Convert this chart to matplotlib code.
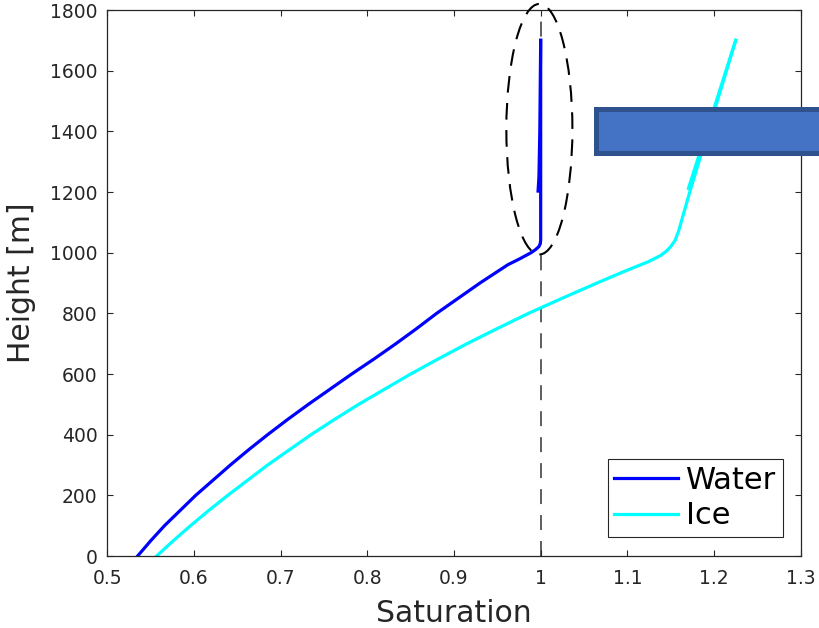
import matplotlib.pyplot as plt
from matplotlib.patches import Ellipse, Rectangle

# saturation profiles (height in m)
water_h = [0, 50, 100, 150, 200, 250, 300, 350, 400, 450, 500, 550, 600, 650, 700,
           750, 800, 850, 900, 930, 960, 980, 1000, 1010, 1020, 1030, 1040, 1700]
water_s = [0.535, 0.550, 0.566, 0.584, 0.602, 0.622, 0.642, 0.663, 0.685, 0.708,
           0.732, 0.757, 0.782, 0.808, 0.833, 0.857, 0.880, 0.905, 0.930, 0.946,
           0.962, 0.976, 0.989, 0.994, 0.998, 0.9995, 1.0, 1.0]
# the upper part is traced twice (thicker look between 1200 and 1700 m)
water_h2 = [1700, 1400, 1250, 1203]
water_s2 = [1.0, 0.999, 0.998, 0.997]

ice_h = [0, 50, 100, 150, 200, 250, 300, 350, 400, 450, 500, 550, 600, 650, 700,
         750, 800, 850, 900, 940, 970, 990, 1005, 1020, 1040, 1070, 1200, 1700]
ice_s = [0.557, 0.576, 0.596, 0.617, 0.639, 0.662, 0.685, 0.710, 0.735, 0.762,
         0.790, 0.820, 0.850, 0.882, 0.915, 0.950, 0.986, 1.025, 1.065, 1.098,
         1.124, 1.138, 1.145, 1.150, 1.155, 1.159, 1.172, 1.225]
ice_h2 = [1700, 1212]
ice_s2 = [1.225, 1.1705]

xticks = [0.5, 0.6, 0.7, 0.8, 0.9, 1.0, 1.1, 1.2, 1.3]
xlabels = ['0.5', '0.6', '0.7', '0.8', '0.9', '1', '1.1', '1.2', '1.3']
yticks = [0, 200, 400, 600, 800, 1000, 1200, 1400, 1600, 1800]

grey = '#262626'
blue = '#0000ff'
cyan = '#00ffff'

fig = plt.figure(figsize=(8.19, 6.28), dpi=100)
ax = fig.add_axes([107.3 / 819, 72 / 628, 693.4 / 819, 546 / 628])

ax.plot(water_s, water_h, color=blue, lw=2.3, label='Water')
ax.plot(ice_s, ice_h, color=cyan, lw=2.3, label='Ice')
ax.plot(water_s2, water_h2, color=blue, lw=2.3)
ax.plot(ice_s2, ice_h2, color=cyan, lw=2.3)

# saturation = 1 reference
ax.plot([1, 1], [0, 1800], color='#333333', lw=1.1, linestyle=(0, (9.8, 7.2)), zorder=1)

# highlight of the water profile above 1000 m
ax.add_patch(Ellipse((0.9985, 1407), 0.0762, 826, fill=False, ec='black', lw=1.5,
                     linestyle=(0, (8, 5)), clip_on=False, zorder=5))

ax.set_xlim(0.5, 1.3)
ax.set_ylim(0, 1800)
ax.set_xticks(xticks)
ax.set_xticklabels(xlabels)
ax.set_yticks(yticks)
ax.tick_params(direction='in', length=4.5, width=0.8, colors=grey, labelsize=13.5,
               top=True, right=True)
ax.tick_params(axis='x', pad=9)
ax.tick_params(axis='y', pad=7)
for s in ax.spines.values():
    s.set_color(grey)
    s.set_linewidth(0.9)

ax.set_xlabel('Saturation', fontsize=21.5, color=grey, labelpad=8)
ax.set_ylabel('Height [m]', fontsize=21.5, color=grey, labelpad=10)

leg = ax.legend(loc='lower right', bbox_to_anchor=(0.9745, 0.0348), borderaxespad=0,
                fontsize=22, fancybox=False, framealpha=1, edgecolor=grey,
                handlelength=2.1, handletextpad=0.25, borderpad=0.22, labelspacing=0.22)
leg.get_frame().set_linewidth(0.8)
for line in leg.get_lines():
    line.set_linewidth(2.3)

# blue bar pasted over the figure on the right
fig.patches.append(Rectangle((595.5 / 819, (628 - 152.5) / 628), 0.3, 43 / 628,
                             transform=fig.transFigure, facecolor='#4472c4',
                             edgecolor='#2f528f', lw=3.6, zorder=10))

fig.savefig('out.png', dpi=100)
